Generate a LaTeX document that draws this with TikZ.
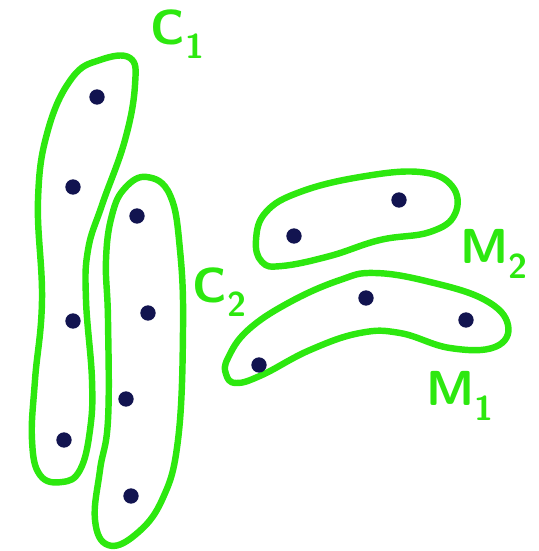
\documentclass[tikz,border=0pt]{standalone}
\usepackage{xcolor}
\usepackage{tikz}
\usetikzlibrary{calc}
\definecolor{penGreen}{RGB}{45,232,15}
\definecolor{dotBlue}{RGB}{18,20,80}

\begin{document}
\begin{tikzpicture}[
  x=0.03cm,y=-0.03cm,
  blob/.style={draw=penGreen,line width=5.5pt,line join=round,smooth cycle,tension=0.7},
  pt/.style={circle,fill=dotBlue,inner sep=0pt,minimum size=0.46cm},
  lbl/.style={text=penGreen,font=\fontsize{42}{42}\selectfont\sffamily\bfseries,inner sep=0pt}
]
\useasboundingbox (0,0) rectangle (539,551);
% clusters C_1 and C_2
\draw[blob] plot coordinates {(100,60) (130,58) (135,85) (125,140) (102,205) (88,250) (86,300) (92,380) (90,430) (80,470) (62,482) (40,475) (32,440) (35,380) (42,300) (38,200) (48,130) (72,78)};
\draw[blob] plot coordinates {(147,177) (170,195) (180,250) (183,330) (178,440) (162,500) (135,535) (108,545) (95,520) (100,470) (108,420) (108,320) (106,260) (112,215) (125,188)};
% clusters M_2 and M_1
\draw[blob] plot coordinates {(256,240) (266,212) (300,192) (360,177) (420,172) (452,186) (455,214) (430,232) (380,240) (330,256) (282,266) (262,262)};
\draw[blob] plot coordinates {(228,358) (248,330) (290,302) (340,280) (375,273) (430,282) (485,300) (508,325) (495,347) (450,348) (400,333) (360,333) (310,350) (262,375) (236,383) (226,374)};
% points
\node[pt] (c1a) at (97,97) {};
\node[pt] (c1b) at (73,187) {};
\node[pt] (c1c) at (73,321) {};
\node[pt] (c1d) at (64,440) {};
\node[pt] (c2a) at (137,216) {};
\node[pt] (c2b) at (148,313) {};
\node[pt] (c2c) at (126,399) {};
\node[pt] (c2d) at (131,496) {};
\node[pt] (m2a) at (294,236) {};
\node[pt] (m2b) at (399,200) {};
\node[pt] (m1a) at (259,365) {};
\node[pt] (m1b) at (366,298) {};
\node[pt] (m1c) at (466,320) {};
% labels
\node[lbl] (lc1) at (178,34) {C\textsubscript{1}};
\node[lbl] (lc2) at (220,292) {C\textsubscript{2}};
\node[lbl] (lm2) at (494,254) {M\textsubscript{2}};
\node[lbl] (lm1) at (460,396) {M\textsubscript{1}};
\end{tikzpicture}
\end{document}
